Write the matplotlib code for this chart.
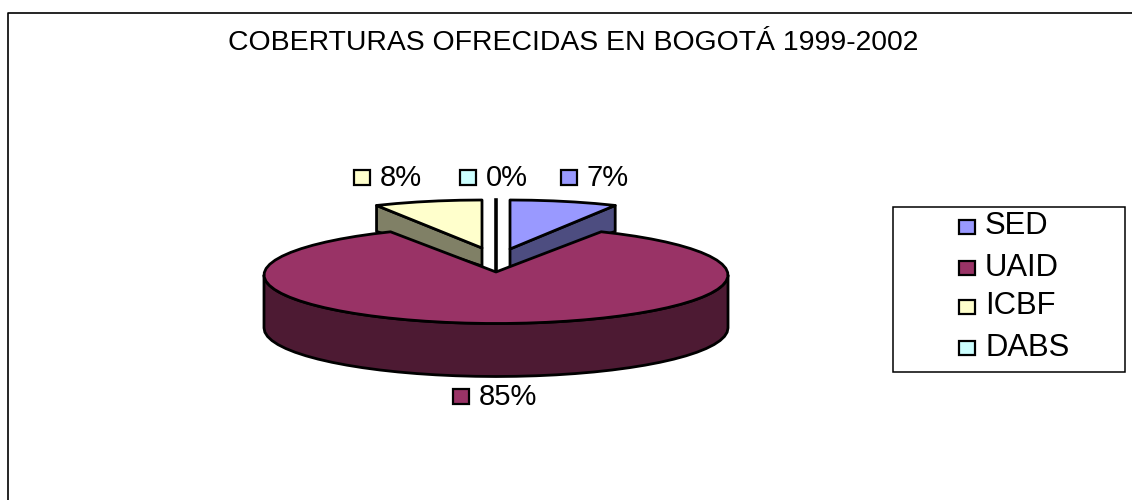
import numpy as np
import matplotlib
matplotlib.use("Agg")
import matplotlib.pyplot as plt
from matplotlib.patches import Polygon, Rectangle

plt.rcParams['font.family'] = ['Liberation Sans', 'DejaVu Sans']

title = "COBERTURAS OFRECIDAS EN BOGOTÁ 1999-2002"
categories = ["SED", "UAID", "ICBF", "DABS"]
values = [7.49, 85.0, 7.51, 0.0]
labels = ["7%", "85%", "8%", "0%"]
top_colors = ["#9999FF", "#993366", "#FFFFCC", "#CCFFFF"]
side_colors = ["#4D4D80", "#4D1A33", "#808066", "#668080"]

W, H = 1132, 500
fig = plt.figure(figsize=(W / 100, H / 100), dpi=100, facecolor="white")
ax = fig.add_axes([0, 0, 1, 1])
ax.set_xlim(0, W)
ax.set_ylim(H, 0)
ax.axis("off")

# outer frame: only top and left edges are visible
ax.plot([8, 8, W], [H, 12.5, 12.5], color="black", lw=1.2, solid_capstyle="butt")
ax.text(573, 43, title, ha="center", va="center", fontsize=20.4, color="black")

RX = 232
# per slice geometry: ellipse centre, apex, radii, depth
geom = [
    dict(cx=510, cy=250, ax_=510, ay=249, rx=RX, ry=50, depth=18),
    dict(cx=496, cy=275, ax_=496, ay=272, rx=RX, ry=48.5, depth=53),
    dict(cx=482, cy=250, ax_=482, ay=248, rx=RX, ry=50, depth=18),
    dict(cx=496, cy=250, ax_=496, ay=272, rx=RX, ry=50, depth=18),
]
fracs = np.array(values) / sum(values) * 360
starts = np.concatenate([[0], np.cumsum(fracs)[:-1]])


def arc(g, a0, a1):
    n = max(2, int(abs(a1 - a0) / 5) + 1)
    t = np.radians(np.linspace(a0, a1, n))
    return np.column_stack([g["cx"] + g["rx"] * np.sin(t), g["cy"] - g["ry"] * np.cos(t)])


def down(pts, d):
    return pts + np.array([0, d])


LW = 2.0
kw = dict(edgecolor="black", linewidth=LW, joinstyle="round")

# draw back slices first, then the large front slice
for i in (0, 2, 3):
    g = geom[i]
    a0, a1 = starts[i], starts[i] + fracs[i]
    apex = np.array([[g["ax_"], g["ay"]]])
    if fracs[i] == 0:
        end = arc(g, a0, a0 + 0.01)[0]
        ax.plot([apex[0, 0], end[0]], [apex[0, 1], end[1]], color="black", lw=2.6, zorder=2)
        continue
    outer = arc(g, a0, a1)
    # radial inner wall visible towards the viewer
    edge = outer[-1] if i == 0 else outer[0]
    wall = np.array([apex[0], edge, edge + [0, g["depth"] + 8], apex[0] + [0, g["depth"]]])
    ax.add_patch(Polygon(wall, closed=True, facecolor=side_colors[i], zorder=2, **kw))
    ax.add_patch(Polygon(np.vstack([apex, outer]), closed=True, facecolor=top_colors[i], zorder=3, **kw))

g = geom[1]
a0, a1 = starts[1], starts[1] + fracs[1]
outer = arc(g, a0, a1)
front = arc(g, 90, 270)
side = np.vstack([front, down(front, g["depth"])[::-1]])
ax.add_patch(Polygon(side, closed=True, facecolor=side_colors[1], zorder=4, **kw))
apex = np.array([[g["ax_"], g["ay"]]])
ax.add_patch(Polygon(np.vstack([apex, outer]), closed=True, facecolor=top_colors[1], zorder=5, **kw))

# data labels with colour keys
label_pos = {0: (561, 177), 1: (453, 396), 2: (354, 177), 3: (460, 177)}
for i, (x, y) in label_pos.items():
    ax.add_patch(Rectangle((x, y - 7.5), 16, 15, facecolor=top_colors[i],
                           edgecolor="black", linewidth=1.6, zorder=6))
    ax.text(x + 26, y + 1, labels[i], ha="left", va="center", fontsize=21,
            color="black", zorder=6)

# legend
ax.add_patch(Rectangle((892.5, 206.5), 232, 165, facecolor="white",
                       edgecolor="black", linewidth=1.1, zorder=6))
for i, (name, y) in enumerate(zip(categories, [225, 266, 305, 346])):
    ax.add_patch(Rectangle((958.5, y - 5.5), 16, 14, facecolor=top_colors[i],
                           edgecolor="black", linewidth=1.6, zorder=7))
    ax.text(985, y + 1.5, name, ha="left", va="center", fontsize=22.3, color="black", zorder=7)

fig.savefig("out.png", dpi=100, facecolor="white")
